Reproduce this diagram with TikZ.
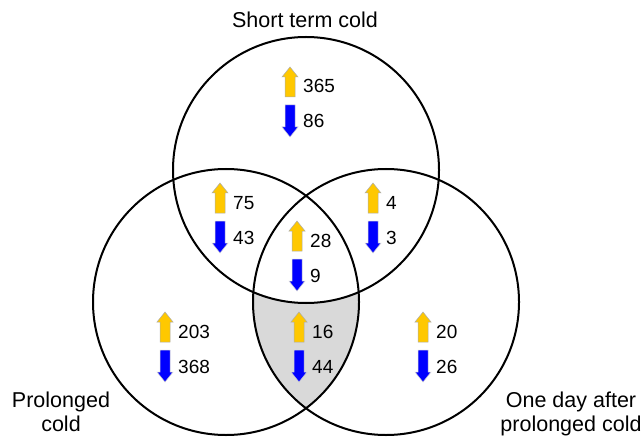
\documentclass[tikz,border=0pt]{standalone}
\usepackage{fontspec}
\setmainfont{Liberation Sans}
\usetikzlibrary{calc}
\definecolor{upgold}{HTML}{FFC800}
\definecolor{downblue}{HTML}{0000FF}
\definecolor{lensgray}{HTML}{D9D9D9}
\begin{document}
\begin{tikzpicture}[x=1pt,y=-1pt,
  set/.style={draw=black,line width=2pt},
  num/.style={inner sep=0pt,anchor=base west,font=\fontsize{19}{22}\selectfont},
  lbl/.style={inner sep=0pt,anchor=base,font=\fontsize{21.5}{25}\selectfont},
  uparr/.pic={\filldraw[fill=upgold,draw=gray!65,line width=0.5pt]
     (-5,30) -- (-5,10) -- (-8,10) -- (0,0) -- (8,10) -- (5,10) -- (5,30) -- cycle;},
  downarr/.pic={\filldraw[fill=downblue,draw=gray!35,line width=0.5pt]
     (-5,38) -- (-5,60) -- (-8,60) -- (0,70) -- (8,60) -- (5,60) -- (5,38) -- cycle;}
]
\useasboundingbox (0,0) rectangle (644,438);

% circle centres
\coordinate (ct) at (306,170);
\coordinate (cl) at (226,302);
\coordinate (cr) at (386,302);

% shaded region: in both lower sets but not in the upper one
\begin{scope}
  \clip (cl) circle (133);
  \clip (cr) circle (133);
  \fill[lensgray,even odd rule] (0,0) rectangle (644,438) (ct) circle (133);
\end{scope}

\draw[set] (ct) circle (133);
\draw[set] (cl) circle (133);
\draw[set] (cr) circle (133);

% set labels
\node[lbl] (tshort) at (305,28) {Short term cold};
\node[lbl] (tprol1) at (61,407) {Prolonged};
\node[lbl] (tprol2) at (61,431) {cold};
\node[lbl] (tday1) at (571,407) {One day after};
\node[lbl] (tday2) at (571,431) {prolonged cold};

% counts: up-regulated (gold) and down-regulated (blue)
\foreach \name/\cx/\cy/\up/\dn in {
   st/290/67/365/86,
   stpr/220/183/75/43,
   stod/373/183/4/3,
   all/297/221/28/9,
   pr/165/312/203/368,
   prod/299/312/16/44,
   od/423/312/20/26}{
  \pic at (\cx,\cy) {uparr};
  \pic at (\cx,\cy) {downarr};
  \node[num] (up-\name) at ($(\cx,\cy)+(13,26)$) {\up};
  \node[num] (dn-\name) at ($(\cx,\cy)+(13,61)$) {\dn};
}
\end{tikzpicture}
\end{document}
